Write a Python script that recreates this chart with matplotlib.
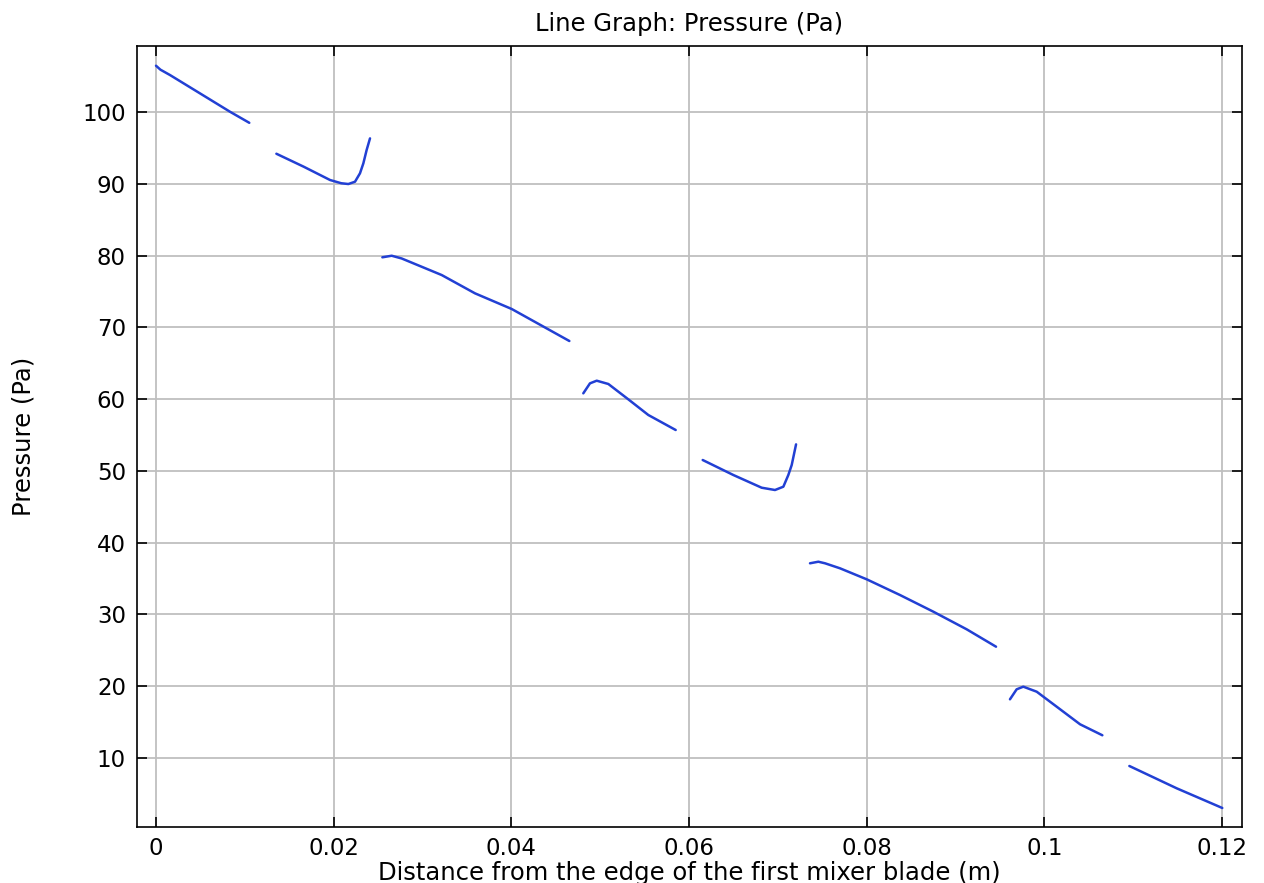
import matplotlib
matplotlib.use("Agg")
import matplotlib.pyplot as plt

# Pressure along the line, one list pair per continuous segment (m, Pa)
seg1_x = [0.0, 0.0005, 0.00158, 0.00495, 0.00833, 0.0105]
seg1_y = [106.45, 105.9, 105.15, 102.6, 100.04, 98.5]

seg2_x = [0.01355, 0.01663, 0.01959, 0.02085, 0.02165, 0.0224, 0.02296, 0.02334, 0.02371, 0.02409]
seg2_y = [94.19, 92.38, 90.53, 90.08, 89.97, 90.29, 91.46, 92.85, 94.71, 96.33]

seg3_x = [0.02548, 0.02653, 0.02765, 0.03216, 0.03591, 0.04004, 0.04653]
seg3_y = [79.76, 79.98, 79.6, 77.29, 74.74, 72.56, 68.1]

seg4_x = [0.0481, 0.04885, 0.04961, 0.05092, 0.05317, 0.05542, 0.0585]
seg4_y = [60.81, 62.2, 62.57, 62.11, 59.97, 57.79, 55.7]

seg5_x = [0.06154, 0.06499, 0.06818, 0.06968, 0.07062, 0.07118, 0.07156, 0.07205]
seg5_y = [51.52, 49.43, 47.66, 47.34, 47.8, 49.43, 50.82, 53.7]

seg6_x = [0.07362, 0.07456, 0.07531, 0.077, 0.08, 0.08375, 0.0875, 0.09126, 0.09456]
seg6_y = [37.13, 37.35, 37.13, 36.43, 34.9, 32.71, 30.39, 27.93, 25.51]

seg7_x = [0.09613, 0.09688, 0.09763, 0.09914, 0.10139, 0.10402, 0.10653]
seg7_y = [18.18, 19.57, 19.94, 19.24, 17.15, 14.70, 13.17]

seg8_x = [0.10957, 0.1149, 0.12003]
seg8_y = [8.89, 5.78, 3.04]

segments = [(seg1_x, seg1_y), (seg2_x, seg2_y), (seg3_x, seg3_y), (seg4_x, seg4_y),
            (seg5_x, seg5_y), (seg6_x, seg6_y), (seg7_x, seg7_y), (seg8_x, seg8_y)]

x_ticks = [0.0, 0.02, 0.04, 0.06, 0.08, 0.1, 0.12]
x_tick_labels = ["0", "0.02", "0.04", "0.06", "0.08", "0.1", "0.12"]
y_ticks = [10, 20, 30, 40, 50, 60, 70, 80, 90, 100]

title = "Line Graph: Pressure (Pa)"
x_label = "Distance from the edge of the first mixer blade (m)"
y_label = "Pressure (Pa)"

plt.rcParams["font.family"] = ["DejaVu Sans"]

fig = plt.figure(figsize=(12.64, 8.83), dpi=100)
ax = fig.add_axes([137 / 1264, 1 - 827 / 883, (1242 - 137) / 1264, (827 - 46) / 883])

for xs, ys in segments:
    ax.plot(xs, ys, color="#2240d4", lw=1.8, solid_joinstyle="round", solid_capstyle="round")

ax.set_xlim(-0.00214, 0.12225)
ax.set_ylim(0.39, 109.2)

ax.set_xticks(x_ticks)
ax.set_xticklabels(x_tick_labels)
ax.set_yticks(y_ticks)

ax.grid(True, color="#bfbfbf", lw=1.3)
ax.set_axisbelow(True)

ax.tick_params(direction="in", length=7, width=1.2, labelsize=16.5, pad=8,
               top=True, right=True, colors="black")
ax.tick_params(axis="x", pad=7)
for s in ax.spines.values():
    s.set_linewidth(1.2)
    s.set_color("black")

ax.set_title(title, fontsize=17.5, pad=11)
ax.set_ylabel(y_label, fontsize=17.5, labelpad=34)
# axis title placed just under the tick labels
fig.text(689.5 / 1264, 1 - 873 / 883, x_label, fontsize=17.5, ha="center", va="center")

fig.savefig("out.png", dpi=100)
